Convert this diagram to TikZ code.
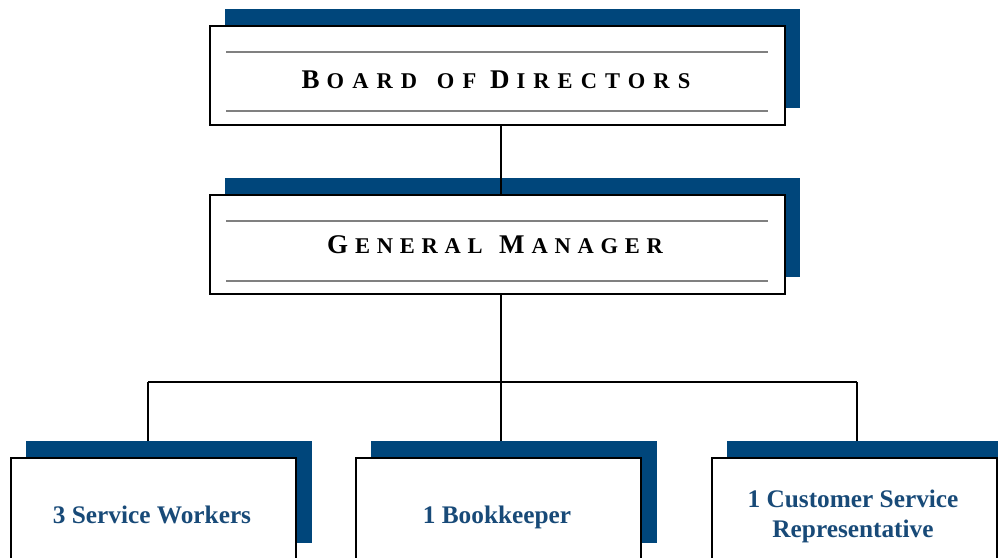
\documentclass[tikz,border=0pt]{standalone}
\usepackage{fontspec}
\setmainfont{Liberation Serif}
\newfontfamily\titlefontA[LetterSpace=36]{Liberation Serif}
\newfontfamily\titlefontB[LetterSpace=30]{Liberation Serif}
\definecolor{navy}{RGB}{0,70,123}
\definecolor{txtblue}{RGB}{24,74,120}
\definecolor{rulegray}{RGB}{128,128,128}
\newcommand\BigL[1]{{\fontsize{27}{27}\selectfont #1}\kern7pt}
\newcommand\SmL[1]{{\fontsize{22.5}{22.5}\selectfont #1}}
\tikzset{
  shadowbox/.style={draw=none, fill=navy, anchor=north west, inner sep=0pt},
  whitebox/.style={draw=black, line width=2.2pt, fill=white, anchor=north west, inner sep=0pt},
  innerrule/.style={draw=rulegray, line width=2pt},
  wire/.style={draw=black, line width=1.8pt},
  titletext/.style={anchor=base, inner sep=0pt, font=\bfseries},
  unittext/.style={anchor=base, inner sep=0pt, text=txtblue, align=center,
    font=\fontsize{25.3}{30}\selectfont\bfseries}
}
\begin{document}
\begin{tikzpicture}[x=1pt,y=-1pt]
\useasboundingbox (0,0) rectangle (998,557);
\clip (0,0) rectangle (998,557);
\fill[white] (0,0) rectangle (998,557);
% top
\node[shadowbox, minimum width=575pt, minimum height=99pt] (bdsh) at (225,9) {};
\node[whitebox, minimum width=575pt, minimum height=99pt] (bd) at (209,25) {};
\coordinate (bdl1a) at (226,52); \coordinate (bdl1b) at (768,52);
\coordinate (bdl2a) at (226,111); \coordinate (bdl2b) at (768,111);
\draw[innerrule] (bdl1a) -- (bdl1b);
\draw[innerrule] (bdl2a) -- (bdl2b);
\node[titletext] (bdt) at (496,88) {\titlefontA\BigL{B}\SmL{OARD }\hspace{6pt}\SmL{OF }\BigL{D}\SmL{IRECTORS}};
% GM
\node[shadowbox, minimum width=575pt, minimum height=99pt] (gmsh) at (225,178) {};
\node[whitebox, minimum width=575pt, minimum height=99pt] (gm) at (209,194) {};
\coordinate (gml1a) at (226,221); \coordinate (gml1b) at (768,221);
\coordinate (gml2a) at (226,281); \coordinate (gml2b) at (768,281);
\draw[innerrule] (gml1a) -- (gml1b);
\draw[innerrule] (gml2a) -- (gml2b);
\node[titletext] (gmt) at (495,253) {\titlefontB\BigL{G}\SmL{ENERAL }\hspace{4pt}\BigL{M}\SmL{ANAGER}};
% bottom
\node[shadowbox, minimum width=286pt, minimum height=102pt] (swsh) at (26,441) {};
\node[whitebox, minimum width=285pt, minimum height=103pt] (sw) at (10,457) {};
\node[shadowbox, minimum width=286pt, minimum height=102pt] (bksh) at (371,441) {};
\node[whitebox, minimum width=285pt, minimum height=103pt] (bk) at (355,457) {};
\node[shadowbox, minimum width=286pt, minimum height=102pt] (cssh) at (727,441) {};
\node[whitebox, minimum width=285pt, minimum height=103pt] (cs) at (711,457) {};
\node[unittext] (swt) at (152,523) {3 Service Workers};
\node[unittext] (bkt) at (497,523) {1 Bookkeeper};
\node[unittext, anchor=north] (cst) at (853,490) {1 Customer Service\\Representative};
% connectors
\coordinate (bus) at (501,382);
\coordinate (busl) at (148,382);
\coordinate (busr) at (857,382);
\coordinate (swin) at (148,441);
\coordinate (bkin) at (501,441);
\coordinate (csin) at (857,441);
\draw[wire] (bd.south -| bus) -- (gm.north -| bus);
\draw[wire] (gm.south -| bus) -- (bus);
\draw[wire] (busl) -- (busr);
\draw[wire] (busl) -- (swin);
\draw[wire] (bus) -- (bkin);
\draw[wire] (busr) -- (csin);
\end{tikzpicture}
\end{document}
